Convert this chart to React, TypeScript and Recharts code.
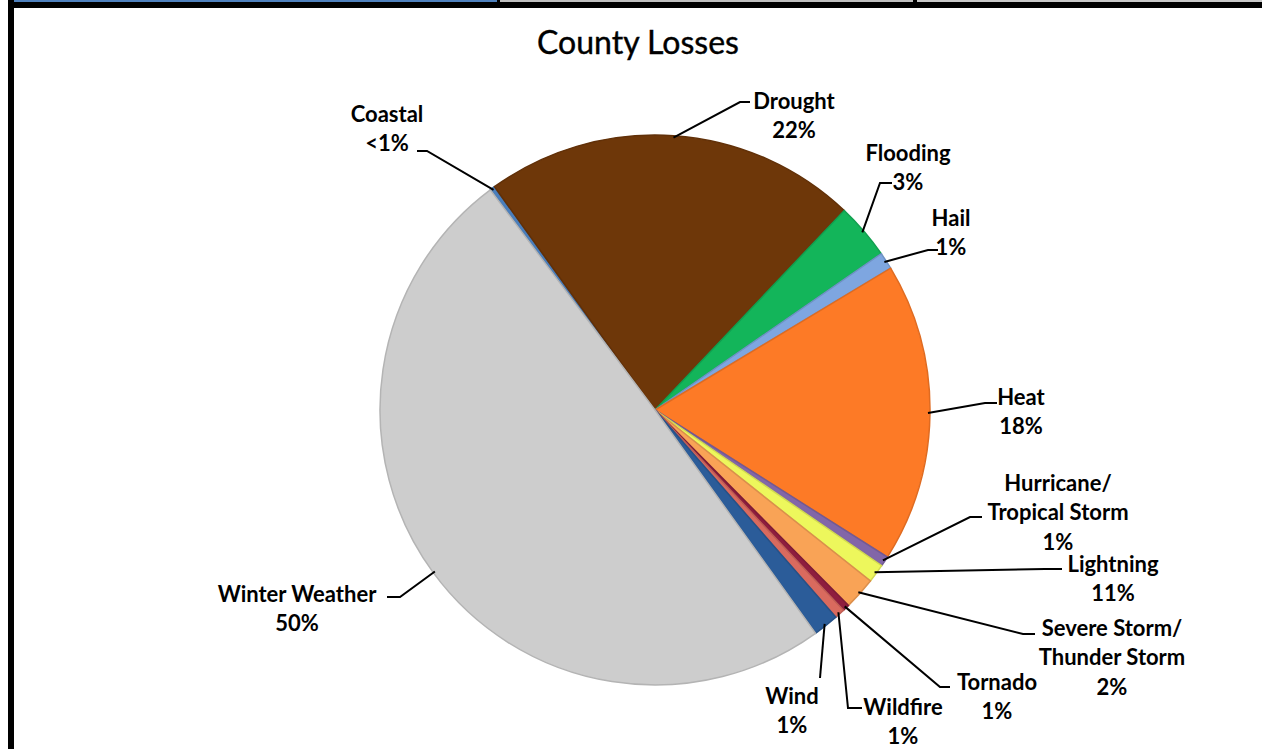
import { PieChart, Pie, Cell } from "recharts";

const categories = [
     "Coastal",
     "Drought",
     "Flooding",
     "Hail",
     "Heat",
     "Hurricane/\nTropical Storm",
     "Lightning",
     "Severe Storm/\nThunder Storm",
     "Tornado",
     "Wildfire",
     "Wind",
     "Winter Weather",
];

// slice sizes as drawn (share of the pie, %)
const shares = [0.3, 22, 3.3, 1.0, 17.6, 0.6, 1.1, 1.9, 0.4, 0.6, 1.5, 49.7];

// percentage text as printed on the chart
const pctLabels = ["<1%", "22%", "3%", "1%", "18%", "1%", "11%", "2%", "1%", "1%", "1%", "50%"];

const colors = [
     "#4A7EBB",
     "#6E3709",
     "#13B55A",
     "#7EA6E0",
     "#FD7A26",
     "#8266A8",
     "#EDF75C",
     "#F9A356",
     "#8E1D3E",
     "#D96A5E",
     "#2B5C99",
     "#CDCDCD",
];

// leader line elbow / end and label centre, relative to pie centre
const labelSpots = [
     { elbow: [-228, -259], end: [-238, -259], text: [-268, -297] },
     { elbow: [85, -308], end: [95, -308], text: [139, -310] },
     { elbow: [225, -227], end: [237, -227], text: [253, -258] },
     { elbow: [273, -160], end: [283, -160], text: [296, -193] },
     { elbow: [330, -7], end: [342, -7], text: [366, -14] },
     { elbow: [315, 107], end: [327, 107], text: [403, 72] },
     { elbow: [390, 159], end: [407, 159], text: [458, 153] },
     { elbow: [368, 224], end: [380, 224], text: [457, 217] },
     { elbow: [285, 277], end: [295, 277], text: [342, 271] },
     { elbow: [193, 298], end: [207, 298], text: [248, 296] },
     { elbow: [165, 268], end: [165, 268], text: [137, 285] },
     { elbow: [-255, 187], end: [-268, 187], text: [-358, 183] },
];

const data = categories.map((name, i) => ({ name, value: shares[i] }));

const CX = 650;
const CY = 405;
const RADIUS = 275;
const LINE_GAP = 29.5;

function darken(hex: string, f: number) {
     const n = parseInt(hex.slice(1), 16);
     const r = Math.round(((n >> 16) & 255) * f);
     const g = Math.round(((n >> 8) & 255) * f);
     const b = Math.round((n & 255) * f);
     return `rgb(${r},${g},${b})`;
}

function renderLabel(props: any) {
     const { cx, cy, midAngle, outerRadius, index } = props;
     const rad = Math.PI / 180;
     const sx = cx + (outerRadius - 2) * Math.cos(-midAngle * rad);
     const sy = cy + (outerRadius - 2) * Math.sin(-midAngle * rad);
     const spot = labelSpots[index];
     const lines = [...categories[index].split("\n"), pctLabels[index]];
     const tx = cx + spot.text[0];
     const ty = cy + spot.text[1];
     return (
          <g key={`lbl-${index}`}>
               <polyline
                    points={`${sx},${sy} ${cx + spot.elbow[0]},${cy + spot.elbow[1]} ${cx + spot.end[0]},${cy + spot.end[1]}`}
                    fill="none"
                    stroke="#000"
                    strokeWidth={2}
               />
               <text
                    textAnchor="middle"
                    fontFamily="Lato, 'Open Sans', sans-serif"
                    fontWeight={700}
                    fontSize={22}
                    fill="#000"
               >
                    {lines.map((l, i) => (
                         <tspan key={i} x={tx} y={ty + i * LINE_GAP} dominantBaseline="central">
                              {l}
                         </tspan>
                    ))}
               </text>
          </g>
     );
}

export default function App() {
     return (
          <div
               style={{
                    position: "fixed",
                    left: 0,
                    top: 0,
                    width: 1262,
                    height: 749,
                    background: "#fff",
                    overflow: "hidden",
               }}
          >
               {/* frame */}
               <div style={{ position: "absolute", left: 8, top: 0, width: 1254, height: 8, background: "#000" }} />
               <div style={{ position: "absolute", left: 14, top: 0, width: 483, height: 2, background: "#4F81BD" }} />
               <div style={{ position: "absolute", left: 500, top: 0, width: 413, height: 2, background: "#BFBFBF" }} />
               <div style={{ position: "absolute", left: 917, top: 0, width: 345, height: 2, background: "#C8C8C8" }} />
               <div style={{ position: "absolute", left: 8, top: 0, width: 6, height: 749, background: "#000" }} />

               <div
                    style={{
                         position: "absolute",
                         left: 0,
                         width: 1276,
                         top: 22,
                         textAlign: "center",
                         fontFamily: "Lato, sans-serif",
                         fontSize: 32,
                         lineHeight: "40px",
                         color: "#000",
                         WebkitTextStroke: "0.4px #000",
                    }}
               >
                    County Losses
               </div>

               <div style={{ position: "absolute", left: 0, top: 0 }}>
                    <PieChart width={1262} height={749}>
                         <Pie
                              data={data}
                              dataKey="value"
                              nameKey="name"
                              cx={CX}
                              cy={CY}
                              outerRadius={RADIUS}
                              startAngle={126.8}
                              endAngle={-233.2}
                              label={renderLabel}
                              labelLine={false}
                              isAnimationActive={false}
                         >
                              {data.map((d, i) => (
                                   <Cell
                                        key={d.name}
                                        fill={colors[i]}
                                        stroke={darken(colors[i], 0.88)}
                                        strokeWidth={1.5}
                                   />
                              ))}
                         </Pie>
                    </PieChart>
               </div>
          </div>
     );
}
